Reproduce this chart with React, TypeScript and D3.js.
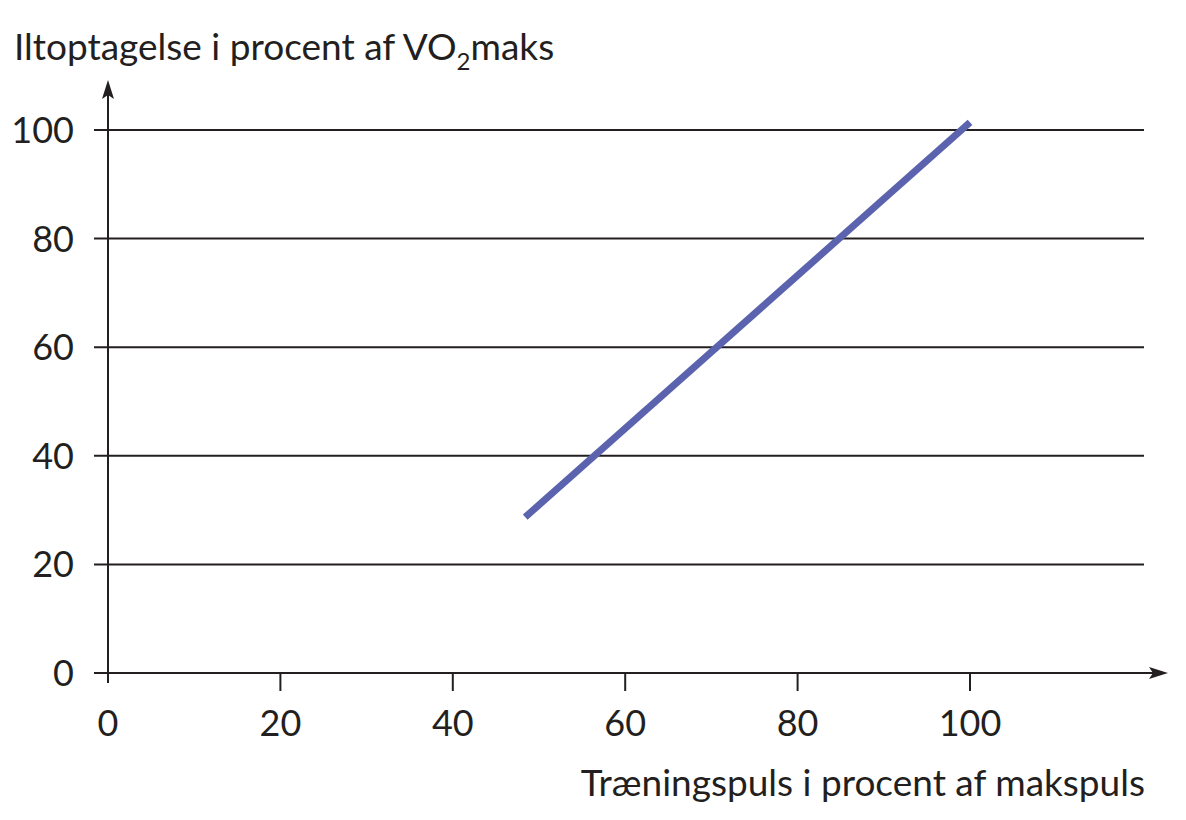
import * as d3 from "d3";

// data
const lineX = [48.4, 100];
const lineY = [28.7, 101.4];
const xTicks = [0, 20, 40, 60, 80, 100];
const yTicks = [0, 20, 40, 60, 80, 100];

const WIDTH = 1186;
const HEIGHT = 820;
const FONT = "Lato, 'Open Sans', sans-serif";
const INK = "#231f20";

export default function App() {
  const xScale = d3.scaleLinear().domain([0, 100]).range([108, 970]);
  const yScale = d3.scaleLinear().domain([0, 100]).range([673, 130]);

  const points = lineX.map((x, i) => [x, lineY[i]] as [number, number]);
  const linePath = d3
    .line<[number, number]>()
    .x((d) => xScale(d[0]))
    .y((d) => yScale(d[1]))(points);

  const x0 = xScale(0);
  const y0 = yScale(0);
  const gridRight = 1144;
  const arrowX = 1168;
  const arrowY = 80;

  return (
    <svg
      width={WIDTH}
      height={HEIGHT}
      style={{ position: "absolute", left: 0, top: 0, background: "#fff" }}
      fontFamily={FONT}
    >
      {/* horizontal grid lines + left ticks */}
      {yTicks.map((t) => (
        <g key={"y" + t}>
          <line
            x1={x0 - 14}
            x2={t === 0 ? arrowX - 12 : gridRight}
            y1={yScale(t)}
            y2={yScale(t)}
            stroke={INK}
            strokeWidth={2}
          />
          <text
            x={74}
            y={yScale(t) + 13}
            textAnchor="end"
            fontSize={36}
            fill={INK}
          >
            {t}
          </text>
        </g>
      ))}

      {/* x ticks */}
      {xTicks.map((t) => (
        <g key={"x" + t}>
          <line
            x1={xScale(t)}
            x2={xScale(t)}
            y1={y0}
            y2={y0 + (t === 0 ? 10 : 18)}
            stroke={INK}
            strokeWidth={2}
          />
          <text
            x={xScale(t)}
            y={736}
            textAnchor="middle"
            fontSize={36}
            fill={INK}
          >
            {t}
          </text>
        </g>
      ))}

      {/* y axis with arrow */}
      <line
        x1={x0}
        x2={x0}
        y1={y0 + 10}
        y2={arrowY + 12}
        stroke={INK}
        strokeWidth={2}
      />
      <path
        d={`M${x0},${arrowY} L${x0 - 6},${arrowY + 19} L${x0},${arrowY + 15} L${x0 + 6},${arrowY + 19} Z`}
        fill={INK}
      />

      {/* x axis arrow */}
      <path
        d={`M${arrowX},${y0} L${arrowX - 19},${y0 - 6} L${arrowX - 15},${y0} L${arrowX - 19},${y0 + 6} Z`}
        fill={INK}
      />

      {/* data line */}
      <path d={linePath || ""} stroke="#5c63ae" strokeWidth={7} fill="none" />

      {/* axis titles */}
      <text x={14} y={60} fontSize={37} fill={INK}>
        Iltoptagelse i procent af VO
        <tspan dy={10} fontSize={24}>
          2
        </tspan>
        <tspan dy={-10}>maks</tspan>
      </text>
      <text x={1145} y={796} textAnchor="end" fontSize={37} fill={INK}>
        Træningspuls i procent af makspuls
      </text>
    </svg>
  );
}
